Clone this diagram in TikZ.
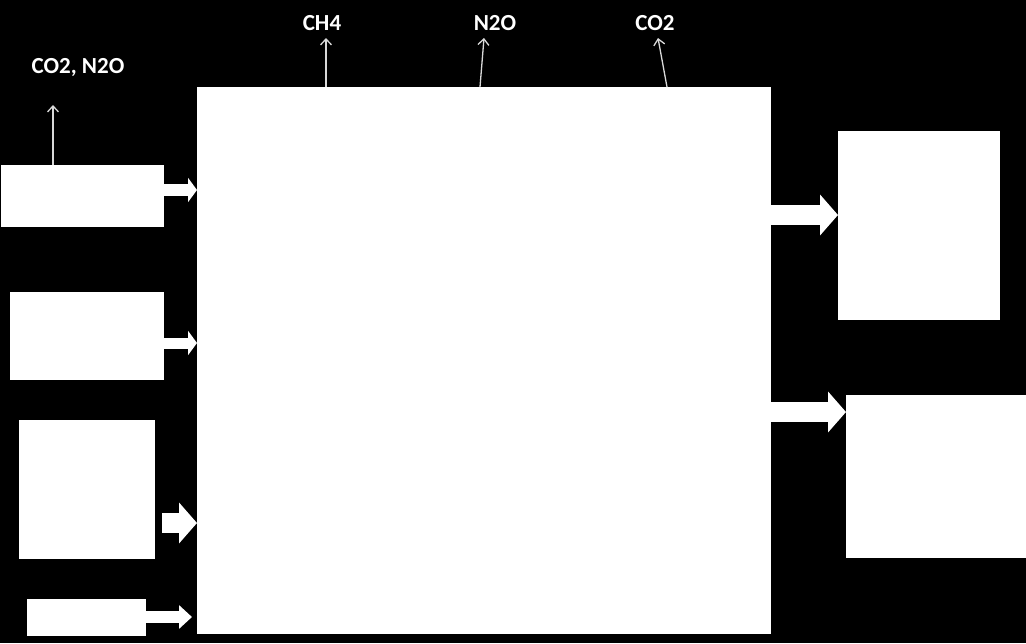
\documentclass[tikz,border=0pt]{standalone}
\usepackage{fontspec}
\setmainfont{Carlito}
\usetikzlibrary{arrows.meta}
\begin{document}
\begin{tikzpicture}[x=1pt,y=-1pt,
  box/.style={fill=white,draw=none,inner sep=0pt,outer sep=0pt},
  gas/.style={text=white,font=\bfseries\fontsize{23}{26}\selectfont,anchor=base,inner sep=0pt},
  gasarrow/.style={draw=white!85!black,line width=1.3pt,-{Straight Barb[length=6pt,width=11pt]}},
  bsmall/.style={draw=white,line width=12pt,-{Triangle[length=9pt,width=24pt]}},
  bbig/.style={draw=white,line width=20pt,-{Triangle[length=18pt,width=40pt]}}]
\fill[black] (0,0) rectangle (1026,643);
\useasboundingbox (0,0) rectangle (1026,643);
% boxes
\node[box,minimum width=574pt,minimum height=547pt] (main) at (484,360.5) {};
\node[box,minimum width=163pt,minimum height=62pt] (L1) at (82.5,196) {};
\node[box,minimum width=154pt,minimum height=88pt] (L2) at (87,336) {};
\node[box,minimum width=136pt,minimum height=139pt] (L3) at (87,489.5) {};
\node[box,minimum width=119pt,minimum height=37pt] (L4) at (86.5,617.5) {};
\node[box,minimum width=162pt,minimum height=189pt] (R1) at (919,225.5) {};
\node[box,minimum width=180pt,minimum height=163pt] (R2) at (936,476.5) {};
% block arrows
\draw[bsmall] ([xshift=-1pt]L1.east |- 0,190) -- (main.west |- 0,190);
\draw[bsmall,line width=11pt] ([xshift=-1pt]L2.east |- 0,343) -- (main.west |- 0,343);
\draw[bbig] ([xshift=7pt]L3.east |- 0,523) -- (main.west |- 0,523);
\draw[bsmall,-{Triangle[length=13pt,width=23pt]}] ([xshift=-1pt]L4.east |- 0,617) -- ([xshift=-5pt]main.west |- 0,617);
\draw[bbig] ([xshift=-1pt]main.east |- 0,215) -- (R1.west |- 0,215);
\draw[bbig] ([xshift=-1pt]main.east |- 0,412) -- (R2.west |- 0,412);
% gas labels
\node[gas] (g0) at (78,73) {CO2, N2O};
\node[gas] (g1) at (322,30) {CH4};
\node[gas] (g2) at (495,30) {N2O};
\node[gas] (g3) at (655,30) {CO2};
\coordinate (t0e) at (53,105);
\coordinate (t1e) at (326,38);
\coordinate (t2e) at (484,38);
\coordinate (t3e) at (658,38);
\draw[gasarrow] (L1.north -| 53,0) -- (t0e);
\draw[gasarrow] (main.north -| 326,0) -- (t1e);
\draw[gasarrow] (main.north -| 480,0) -- (t2e);
\draw[gasarrow] (main.north -| 667,0) -- (t3e);
\end{tikzpicture}
\end{document}
